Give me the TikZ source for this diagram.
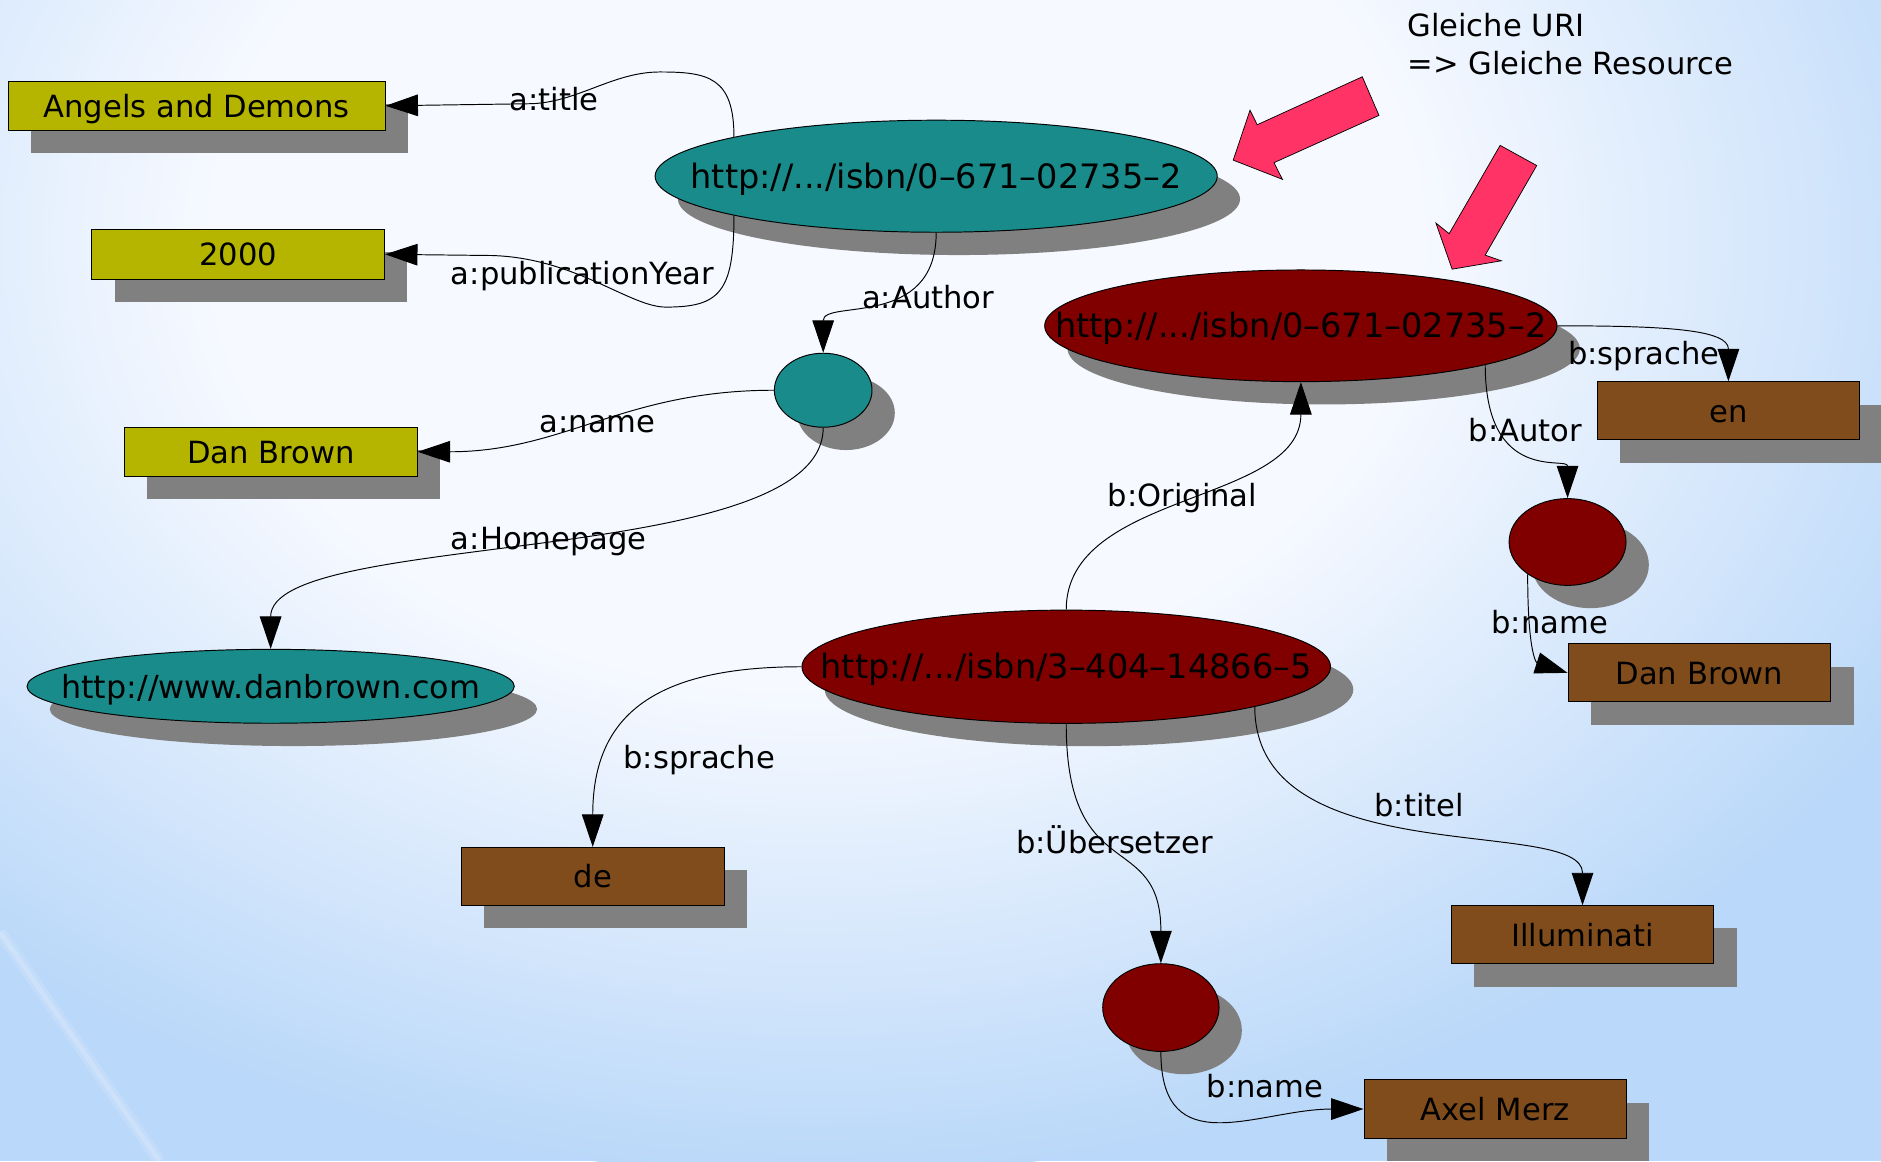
\documentclass[tikz,border=0pt]{standalone}
\usepackage{fontspec}
\setmainfont{DejaVu Sans}
\usetikzlibrary{arrows.meta,shadows,shapes.geometric}
\definecolor{cyel}{RGB}{181,181,0}
\definecolor{cteal}{RGB}{26,139,139}
\definecolor{cred}{RGB}{128,0,0}
\definecolor{cbrown}{RGB}{128,76,27}
\definecolor{cpink}{RGB}{255,51,102}
\definecolor{cshadow}{RGB}{128,128,128}
\definecolor{bgw}{RGB}{246,249,255}
\definecolor{bgb}{RGB}{186,216,249}
\pgfdeclareradialshading{bgglow}{\pgfpoint{0bp}{0bp}}{color(0bp)=(bgw); color(12bp)=(bgw); color(25bp)=(bgb); color(50bp)=(bgb)}
\newcommand\ctrtext[1]{\makebox[0pt]{#1}}
\begin{document}
\begin{tikzpicture}[x=1pt,y=-1pt,
  shad/.style={drop shadow={shadow xshift=19pt,shadow yshift=-19pt,opacity=1,fill=cshadow}},
  txt/.style={font=\fontsize{25.5}{30}\selectfont},
  btxt/.style={txt,text height=24pt,text depth=5pt},
  ybox/.style={rectangle,draw=black,line width=0.8pt,fill=cyel,inner sep=0pt,shad,btxt},
  bbox/.style={rectangle,draw=black,line width=0.8pt,fill=cbrown,inner sep=0pt,shad,btxt,minimum width=219pt,minimum height=48.5pt},
  ell/.style={ellipse,draw=black,line width=0.8pt,inner sep=0pt,shad,text height=25pt,text depth=5pt},
  tell/.style={ell,fill=cteal},
  rell/.style={ell,fill=cred},
  isbn/.style={font=\fontsize{28}{32}\selectfont},
  www/.style={font=\fontsize{26.5}{32}\selectfont},
  edge/.style={draw=black,line width=0.8pt,-{Triangle[length=27pt,width=18pt]}},
  lbl/.style={anchor=base west,inner sep=0pt,txt},
  bigarrow/.style={fill=cpink,draw=black,line width=0.6pt,line join=miter}]
\useasboundingbox (0,0) rectangle (1568,968);
% background
\fill[bgb] (0,0) rectangle (1568,968);
\begin{scope}
  \clip (0,0) rectangle (1568,968);
  \shade[shading=bgglow] (680,200) ellipse [x radius=1050, y radius=780];
  \draw[white,opacity=0.12,line width=10pt] (0,777) -- (133,968);
  \draw[white,opacity=0.18,line width=4pt] (0,777) -- (133,968);
\end{scope}
% nodes
\node[ybox,minimum width=314pt,minimum height=41pt] (angels) at (164,88.2) {Angels and Demons};
\node[ybox,minimum width=244pt,minimum height=41.6pt] (year) at (198.6,212) {2000};
\node[ybox,minimum width=244pt,minimum height=41pt] (danY) at (225.8,376.6) {Dan Brown};
\node[tell,isbn,minimum width=468.6pt,minimum height=93.4pt] (e1) at (780.4,146.9) {\ctrtext{http://.../isbn/0--671--02735--2}};
\node[tell,minimum width=81.4pt,minimum height=61.7pt] (c1) at (686.2,325.3) {};
\node[tell,www,minimum width=406.2pt,minimum height=61.6pt] (home) at (225.6,572.1) {\ctrtext{http://www.danbrown.com}};
\node[rell,isbn,minimum width=427.1pt,minimum height=93.1pt] (r1) at (1084.4,271.6) {\ctrtext{http://.../isbn/0--671--02735--2}};
\node[bbox] (en) at (1440.8,342.5) {en};
\node[rell,minimum width=97.5pt,minimum height=72.3pt] (rc1) at (1306.7,451.8) {};
\node[bbox] (danB) at (1416.6,560.9) {Dan Brown};
\node[rell,isbn,minimum width=440.6pt,minimum height=94.4pt] (r2) at (888.8,555.8) {\ctrtext{http://.../isbn/3--404--14866--5}};
\node[bbox] (de) at (494.1,730.6) {de};
\node[bbox] (illu) at (1319.2,779.2) {Illuminati};
\node[rell,minimum width=97pt,minimum height=73.1pt] (rc2) at (967.7,839.9) {};
\node[bbox] (axel) at (1246.5,924.5) {Axel Merz};
% pink arrows
\filldraw[bigarrow] (1028,133.5) -- (1042,91.9) -- (1048,104) -- (1135.6,64) -- (1149.5,96.2) -- (1062,135.6) -- (1069,149.5) -- cycle;
\filldraw[bigarrow] (1210.5,224.4) -- (1197,186) -- (1208,194.8) -- (1250.5,121.2) -- (1281,138) -- (1238,212.7) -- (1251.5,217.4) -- cycle;
% connectors
\draw[edge] (e1.169) .. controls +(0,-50) and +(40,0) .. (550,60)
            .. controls +(-40,0) and +(40,0) .. (440,86.5) -- (angels.east);
\draw[edge] (e1.191) .. controls +(0,64) and +(45,0) .. (555,256)
            .. controls +(-30,0) and +(70,2) .. (410,213) -- (year.east);
\draw[edge] (e1.south) .. controls +(0,81) and +(0,-45) .. (c1.north);
\draw[edge] (c1.west) .. controls +(-125,0) and +(122,0) .. (danY.east);
\draw[edge] (c1.south) .. controls +(0,118) and +(0,-100) .. (home.north);
\draw[edge] (r1.east) .. controls +(92,0) and +(0,-43) .. (en.north);
\draw[edge] (r1.348) .. controls +(0,100) and +(0,-35) .. (rc1.north);
\draw[edge] (rc1.219) .. controls +(0,70) and +(-25,-8) .. (danB.west);
\draw[edge] (r2.north) .. controls +(0,-99) and +(0,102) .. (r1.south);
\draw[edge] (r2.west) .. controls +(-128,0) and +(0,-106) .. (de.north);
\draw[edge] (r2.south) .. controls +(0,137) and +(0,-113) .. (rc2.north);
\draw[edge] (r2.348) .. controls +(0,140) and +(0,-75) .. (illu.north);
\draw[edge] (rc2.south) .. controls +(0,94) and +(-87,0) .. (axel.west);
% labels
\node[lbl] (l1) at (424.7,92.5) {a:title};
\node[lbl] (l2) at (375.7,236.8) {a:publicationYear};
\node[lbl] (l3) at (718.4,257.4) {a:Author};
\node[lbl] (l4) at (449.6,360.7) {a:name};
\node[lbl] (l5) at (375.7,457.8) {a:Homepage};
\node[lbl] (l6) at (1307,303.7) {b:sprache};
\node[lbl] (l7) at (1224,368.4) {b:Autor};
\node[lbl] (l8) at (923.2,422.4) {b:Original};
\node[lbl] (l9) at (519.6,640.6) {b:sprache};
\node[lbl] (l10) at (1243,528) {b:name};
\node[lbl] (l11) at (846.8,711.5) {b:Übersetzer};
\node[lbl] (l12) at (1145.6,680.7) {b:titel};
\node[lbl] (l13) at (1005.7,915) {b:name};
\node[lbl] (g1) at (1173,30.8) {Gleiche URI};
\node[lbl] (g2) at (1173,61.7) {=> Gleiche Resource};
\end{tikzpicture}
\end{document}
